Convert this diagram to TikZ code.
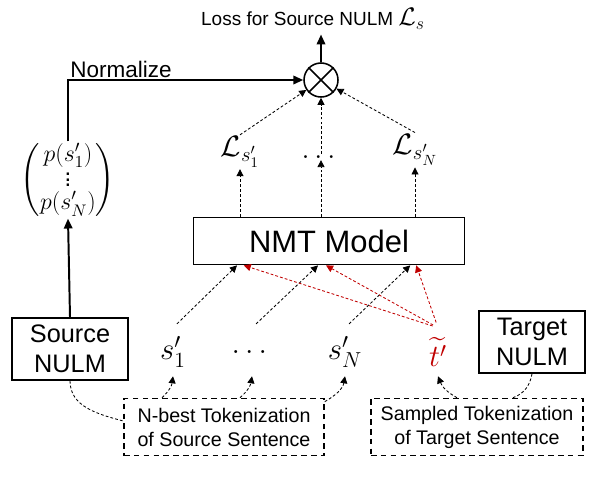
\documentclass[tikz,border=0pt]{standalone}
\usepackage{fix-cm}
\usepackage{amsmath}
\usepackage{fontspec}
\setmainfont{Liberation Sans}
\usetikzlibrary{arrows.meta}
\definecolor{tokred}{RGB}{192,0,0}

\begin{document}
\begin{tikzpicture}[x=0.025cm, y=-0.025cm,
  box/.style={draw, line width=1.1pt, align=center, inner sep=0pt},
  tokbox/.style={draw, line width=1pt, dash pattern=on 4pt off 3pt, align=center, inner sep=0pt, font=\fontsize{14}{17}\selectfont},
  dotarrow/.style={-{Triangle[length=5pt, width=5pt]}, line width=0.6pt, dash pattern=on 2pt off 1.5pt},
  thickarrow/.style={-{Triangle[length=7pt, width=6pt]}, line width=1.4pt},
  mathlbl/.style={inner sep=1pt, font=\fontsize{21}{24}\selectfont},
  slbl/.style={inner sep=0pt, minimum height=1.2cm, font=\fontsize{22}{24}\selectfont}]
\useasboundingbox (0,0) rectangle (596,488);

\node[font=\fontsize{13.5}{15}\selectfont] (loss) at (313,19) {Loss for Source NULM {\fontsize{18}{20}\selectfont$\mathcal{L}_{s}$}};
\node[draw, circle, line width=1.1pt, minimum size=0.85cm, inner sep=0pt] (mult) at (321,80) {};
\draw[line width=1.1pt] (mult.45) -- (mult.-135) (mult.135) -- (mult.-45);

\node[inner sep=1pt, font=\fontsize{17}{18}\selectfont] (vec) at (68,180) {$\begin{pmatrix} p(s'_1)\\[-3pt] \vdots \\[-2pt] p(s'_N)\end{pmatrix}$};

\node[mathlbl] (lone) at (240,152) {$\mathcal{L}_{s'_1}$};
\node[mathlbl] (ldots) at (321,157) {$\dots$};
\node[mathlbl] (lN) at (415,150) {$\mathcal{L}_{s'_N}$};

\node[box, minimum width=6.78cm, minimum height=1.18cm, font=\fontsize{22}{24}\selectfont] (nmt) at (329,241) {NMT Model};
\node[box, minimum width=2.9cm, minimum height=1.55cm, font=\fontsize{18}{21}\selectfont] (srcnulm) at (70,349) {Source\\NULM};
\node[box, minimum width=2.65cm, minimum height=1.55cm, font=\fontsize{18}{21}\selectfont] (tgtnulm) at (532,342) {Target\\NULM};

\node[slbl] (sone) at (173,352) {$s'_1$};
\node[slbl] (sdots) at (252,352) {$\dots$};
\node[slbl] (sN) at (345,352) {$s'_N$};
\node[slbl, text=tokred] (tilt) at (438,352) {$\widetilde{t'}$};

\node[tokbox, minimum width=5.0cm, minimum height=1.43cm] (nbest) at (224,427) {N-best Tokenization\\of Source Sentence};
\node[tokbox, minimum width=5.3cm, minimum height=1.43cm] (sampled) at (477,427) {Sampled Tokenization\\of Target Sentence};

% loss on top
\draw[thickarrow] (mult.north) -- (mult.north |- loss.south);
\draw[thickarrow] (vec.north) |- node[pos=0.5, anchor=south west, inner sep=1pt, font=\fontsize{16}{18}\selectfont] (normlbl) {Normalize} (mult.west);
\draw[thickarrow] (srcnulm.north) -- (vec.south);

\draw[dotarrow] (lone.north) -- (mult);
\draw[dotarrow] (ldots.north) -- (mult);
\draw[dotarrow] (lN.north) -- (mult);

\draw[dotarrow] (nmt.north -| lone) -- (lone.south);
\draw[dotarrow] (nmt.north -| ldots) -- (ldots.south);
\draw[dotarrow] (nmt.north -| lN) -- (lN.south);

% tokens into the model
\draw[dotarrow, shorten <=4pt] (sone.north) -- ([xshift=-2.3cm]nmt.south);
\draw[dotarrow, shorten <=4pt] (sdots.north) -- ([xshift=-0.275cm]nmt.south);
\draw[dotarrow, shorten <=4pt] (sN.north) -- ([xshift=2.03cm]nmt.south);
\draw[dotarrow, tokred, shorten <=4pt] (tilt.north) -- ([xshift=-2.13cm]nmt.south);
\draw[dotarrow, tokred, shorten <=4pt] (tilt.north) -- ([xshift=-0.075cm]nmt.south);
\draw[dotarrow, tokred, shorten <=4pt] (tilt.north) -- ([xshift=2.18cm]nmt.south);

% tokenizations
\draw[dotarrow] ([xshift=-1.55cm]nbest.north) to[bend right=20] (sone.south);
\draw[dotarrow] ([xshift=0.4cm]nbest.north) to[bend right=20] (sdots.south);
\draw[dotarrow] ([yshift=-0.1cm]nbest.north east) to[out=30, in=-100] (sN.south);
\draw[dotarrow] ([xshift=-0.5cm]sampled.north) to[bend left=20] (tilt.south);
\draw[dotarrow, -] (tgtnulm.south) to[out=-100, in=20] ([xshift=0.9cm]sampled.north);
\draw[dotarrow, -] (srcnulm.south) to[out=-90, in=165] ([yshift=0.15cm]nbest.west);

\end{tikzpicture}
\end{document}
